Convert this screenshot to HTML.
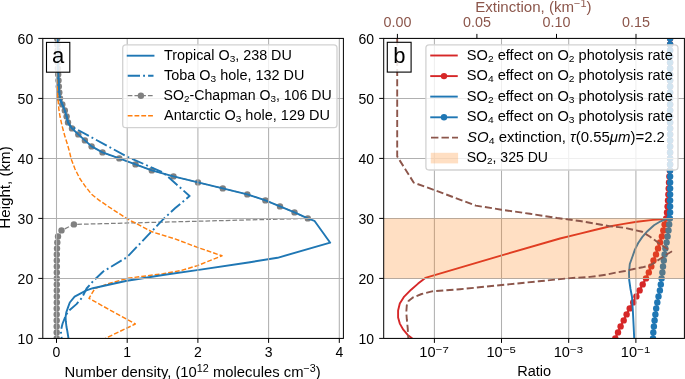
<!DOCTYPE html>
<html><head><meta charset="utf-8"><style>
html,body{margin:0;padding:0;background:#fff;}
svg{display:block;will-change:transform;}
text{font-family:"Liberation Sans", sans-serif;}
</style></head><body>
<svg width="685" height="379" viewBox="0 0 685 379">
<defs>
<clipPath id="ca"><rect x="42.8" y="38.4" width="300.59999999999997" height="300.0"/></clipPath>
<clipPath id="cb"><rect x="383.7" y="38.4" width="300.7" height="300.0"/></clipPath>
</defs>
<rect width="685" height="379" fill="#fff"/>

<g clip-path="url(#ca)" fill="none" stroke-linejoin="round">
<polyline points="57.2,38.4 57.4,44.4 57.6,50.4 57.7,56.4 57.8,62.4 57.9,68.4 58.2,74.4 58.5,80.4 58.8,86.4 59.3,92.4 60.0,98.4 62.3,104.4 64.8,110.4 66.6,116.4 68.0,122.4 72.0,128.4 78.3,134.4 84.9,140.4 91.6,146.4 102.5,152.4 119.3,158.4 135.5,164.4 151.8,170.4 173.5,176.4 198.0,182.4 222.8,188.4 247.3,194.4 265.4,200.4 280.0,206.4 294.5,212.4 307.8,218.4 73.9,224.4 61.5,230.4 58.0,236.4 57.3,242.4 57.0,248.4 56.8,254.4 56.8,260.4 56.8,266.4 56.8,272.4 56.8,278.4 56.8,284.4 56.8,290.4 56.8,296.4 56.8,302.4 56.7,308.4 56.7,314.4 56.7,320.4 56.7,326.4 56.7,332.4 56.7,338.4" stroke="#808080" stroke-width="1.25" stroke-dasharray="4.7 2.05"/>
<g fill="#808080" stroke="none"><circle cx="57.2" cy="38.4" r="3.2"/><circle cx="57.4" cy="44.4" r="3.2"/><circle cx="57.6" cy="50.4" r="3.2"/><circle cx="57.7" cy="56.4" r="3.2"/><circle cx="57.8" cy="62.4" r="3.2"/><circle cx="57.9" cy="68.4" r="3.2"/><circle cx="58.2" cy="74.4" r="3.2"/><circle cx="58.5" cy="80.4" r="3.2"/><circle cx="58.8" cy="86.4" r="3.2"/><circle cx="59.3" cy="92.4" r="3.2"/><circle cx="60.0" cy="98.4" r="3.2"/><circle cx="62.3" cy="104.4" r="3.2"/><circle cx="64.8" cy="110.4" r="3.2"/><circle cx="66.6" cy="116.4" r="3.2"/><circle cx="68.0" cy="122.4" r="3.2"/><circle cx="72.0" cy="128.4" r="3.2"/><circle cx="78.3" cy="134.4" r="3.2"/><circle cx="84.9" cy="140.4" r="3.2"/><circle cx="91.6" cy="146.4" r="3.2"/><circle cx="102.5" cy="152.4" r="3.2"/><circle cx="119.3" cy="158.4" r="3.2"/><circle cx="135.5" cy="164.4" r="3.2"/><circle cx="151.8" cy="170.4" r="3.2"/><circle cx="173.5" cy="176.4" r="3.2"/><circle cx="198.0" cy="182.4" r="3.2"/><circle cx="222.8" cy="188.4" r="3.2"/><circle cx="247.3" cy="194.4" r="3.2"/><circle cx="265.4" cy="200.4" r="3.2"/><circle cx="280.0" cy="206.4" r="3.2"/><circle cx="294.5" cy="212.4" r="3.2"/><circle cx="307.8" cy="218.4" r="3.2"/><circle cx="73.9" cy="224.4" r="3.2"/><circle cx="61.5" cy="230.4" r="3.2"/><circle cx="58.0" cy="236.4" r="3.2"/><circle cx="57.3" cy="242.4" r="3.2"/><circle cx="57.0" cy="248.4" r="3.2"/><circle cx="56.8" cy="254.4" r="3.2"/><circle cx="56.8" cy="260.4" r="3.2"/><circle cx="56.8" cy="266.4" r="3.2"/><circle cx="56.8" cy="272.4" r="3.2"/><circle cx="56.8" cy="278.4" r="3.2"/><circle cx="56.8" cy="284.4" r="3.2"/><circle cx="56.8" cy="290.4" r="3.2"/><circle cx="56.8" cy="296.4" r="3.2"/><circle cx="56.8" cy="302.4" r="3.2"/><circle cx="56.7" cy="308.4" r="3.2"/><circle cx="56.7" cy="314.4" r="3.2"/><circle cx="56.7" cy="320.4" r="3.2"/><circle cx="56.7" cy="326.4" r="3.2"/><circle cx="56.7" cy="332.4" r="3.2"/><circle cx="56.7" cy="338.4" r="3.2"/></g>
<polyline points="57.2,38.4 57.4,44.4 57.6,50.4 57.7,56.4 57.8,62.4 57.9,68.4 58.2,74.4 58.5,80.4 58.8,86.4 59.3,92.4 60.0,98.4 62.3,104.4 64.8,110.4 66.6,116.4 68.0,122.4 69.5,125.4 126.4,156.3 161.1,171.6 166.0,175.0 189.6,196.0 175.0,208.3 163.8,218.7 127.0,257.2 103.2,271.5 93.1,281.1 86.6,288.5 82.0,297.7 76.5,304.1 70.0,309.7 66.3,314.3 62.6,323.5 60.8,330.9 61.7,338.4" stroke="#1f77b4" stroke-width="1.9" stroke-dasharray="12.3 3.1 1.9 3.1" stroke-dashoffset="3.5"/>
<polyline points="57.2,38.4 57.2,60.0 57.2,83.0 57.6,93.7 58.2,101.6 58.9,109.5 60.0,116.5 62.0,125.6 64.8,136.0 67.6,145.0 69.6,152.0 71.1,158.7 75.0,169.0 79.8,178.5 85.3,186.4 91.6,194.3 99.6,200.6 109.0,207.0 127.0,218.7 152.0,231.8 175.0,238.9 197.5,247.4 222.0,255.8 197.5,265.6 181.6,270.4 163.0,273.7 127.6,278.3 108.0,283.8 94.9,288.5 89.0,298.4 135.3,324.0 105.4,338.4" stroke="#ff7f0e" stroke-width="1.45" stroke-dasharray="4.8 2.0"/>
<polyline points="57.2,38.4 57.4,44.4 57.6,50.4 57.7,56.4 57.8,62.4 57.9,68.4 58.2,74.4 58.5,80.4 58.8,86.4 59.3,92.4 60.0,98.4 62.3,104.4 64.8,110.4 66.6,116.4 68.0,122.4 72.0,128.4 78.3,134.4 84.9,140.4 91.6,146.4 102.5,152.4 119.3,158.4 135.5,164.4 151.8,170.4 173.5,176.4 198.0,182.4 222.8,188.4 247.3,194.4 265.4,200.4 280.0,206.4 294.5,212.4 307.8,218.4 314.4,220.8 330.2,242.7 277.5,257.8 250.0,262.2 197.1,270.1 163.0,275.0 135.0,279.5 126.9,280.7 108.7,284.7 92.9,288.2 86.4,290.3 74.6,296.6 69.8,302.5 68.2,306.9 66.3,312.4 65.6,317.0 65.8,321.2 66.5,327.0 67.3,331.0 68.5,338.4" stroke="#1f77b4" stroke-width="1.9" stroke-linecap="square"/>
</g>
<g stroke="#b0b0b0" stroke-width="1.05">
<line x1="56.5" y1="38.4" x2="56.5" y2="338.4"/>
<line x1="127.2" y1="38.4" x2="127.2" y2="338.4"/>
<line x1="197.9" y1="38.4" x2="197.9" y2="338.4"/>
<line x1="268.6" y1="38.4" x2="268.6" y2="338.4"/>
<line x1="339.3" y1="38.4" x2="339.3" y2="338.4"/>
<line x1="42.8" y1="338.4" x2="343.4" y2="338.4"/>
<line x1="42.8" y1="278.4" x2="343.4" y2="278.4"/>
<line x1="42.8" y1="218.4" x2="343.4" y2="218.4"/>
<line x1="42.8" y1="158.4" x2="343.4" y2="158.4"/>
<line x1="42.8" y1="98.4" x2="343.4" y2="98.4"/>
<line x1="42.8" y1="38.4" x2="343.4" y2="38.4"/>
</g>
<g clip-path="url(#cb)" fill="none" stroke-linejoin="round">
<polyline points="669.3,38.4 669.3,212.4 665.4,219.0 653.0,219.9 636.9,221.7 623.8,223.9 609.2,226.5 594.6,230.0 580.0,233.6 560.0,238.5 501.7,255.3 425.3,277.9 418.1,283.6 411.1,289.7 404.2,296.6 399.8,303.6 398.1,310.5 398.1,317.5 399.8,323.6 403.3,329.7 407.7,334.9 412.0,338.3 413.0,339.0" stroke="#d62728" stroke-width="1.9"/>
<polyline points="670.1,38.4 670.1,44.4 670.1,50.4 670.1,56.4 670.1,62.4 670.1,68.4 670.1,74.4 670.1,80.4 670.1,86.4 670.1,92.4 670.1,98.4 670.1,104.4 670.1,110.4 670.1,116.4 670.1,122.4 670.1,128.4 670.1,134.4 670.1,140.4 670.1,146.4 670.1,152.4 670.1,158.4 670.1,164.4 669.8,170.4 669.4,176.4 669.0,182.4 668.7,188.4 668.4,194.4 668.0,200.4 667.6,206.4 667.0,212.4 666.2,218.4 664.6,224.4 663.3,230.4 661.9,236.4 660.0,242.4 658.0,248.4 656.0,254.4 653.5,260.4 651.3,266.4 648.8,272.4 646.0,278.4 642.7,284.4 639.6,290.4 636.4,296.4 633.2,302.4 629.7,308.4 626.6,314.4 623.7,320.4 620.6,326.4 618.0,332.4 615.3,338.4" stroke="#d62728" stroke-width="1.9"/>
<g fill="#d62728" stroke="none"><circle cx="670.1" cy="38.4" r="3.2"/><circle cx="670.1" cy="44.4" r="3.2"/><circle cx="670.1" cy="50.4" r="3.2"/><circle cx="670.1" cy="56.4" r="3.2"/><circle cx="670.1" cy="62.4" r="3.2"/><circle cx="670.1" cy="68.4" r="3.2"/><circle cx="670.1" cy="74.4" r="3.2"/><circle cx="670.1" cy="80.4" r="3.2"/><circle cx="670.1" cy="86.4" r="3.2"/><circle cx="670.1" cy="92.4" r="3.2"/><circle cx="670.1" cy="98.4" r="3.2"/><circle cx="670.1" cy="104.4" r="3.2"/><circle cx="670.1" cy="110.4" r="3.2"/><circle cx="670.1" cy="116.4" r="3.2"/><circle cx="670.1" cy="122.4" r="3.2"/><circle cx="670.1" cy="128.4" r="3.2"/><circle cx="670.1" cy="134.4" r="3.2"/><circle cx="670.1" cy="140.4" r="3.2"/><circle cx="670.1" cy="146.4" r="3.2"/><circle cx="670.1" cy="152.4" r="3.2"/><circle cx="670.1" cy="158.4" r="3.2"/><circle cx="670.1" cy="164.4" r="3.2"/><circle cx="669.8" cy="170.4" r="3.2"/><circle cx="669.4" cy="176.4" r="3.2"/><circle cx="669.0" cy="182.4" r="3.2"/><circle cx="668.7" cy="188.4" r="3.2"/><circle cx="668.4" cy="194.4" r="3.2"/><circle cx="668.0" cy="200.4" r="3.2"/><circle cx="667.6" cy="206.4" r="3.2"/><circle cx="667.0" cy="212.4" r="3.2"/><circle cx="666.2" cy="218.4" r="3.2"/><circle cx="664.6" cy="224.4" r="3.2"/><circle cx="663.3" cy="230.4" r="3.2"/><circle cx="661.9" cy="236.4" r="3.2"/><circle cx="660.0" cy="242.4" r="3.2"/><circle cx="658.0" cy="248.4" r="3.2"/><circle cx="656.0" cy="254.4" r="3.2"/><circle cx="653.5" cy="260.4" r="3.2"/><circle cx="651.3" cy="266.4" r="3.2"/><circle cx="648.8" cy="272.4" r="3.2"/><circle cx="646.0" cy="278.4" r="3.2"/><circle cx="642.7" cy="284.4" r="3.2"/><circle cx="639.6" cy="290.4" r="3.2"/><circle cx="636.4" cy="296.4" r="3.2"/><circle cx="633.2" cy="302.4" r="3.2"/><circle cx="629.7" cy="308.4" r="3.2"/><circle cx="626.6" cy="314.4" r="3.2"/><circle cx="623.7" cy="320.4" r="3.2"/><circle cx="620.6" cy="326.4" r="3.2"/><circle cx="618.0" cy="332.4" r="3.2"/><circle cx="615.3" cy="338.4" r="3.2"/></g>
<polyline points="669.3,38.4 669.3,212.4 667.2,218.6 660.6,221.3 654.0,225.2 647.4,231.2 642.2,237.1 638.2,243.0 634.9,249.6 632.5,256.5 629.8,264.0 629.0,272.5 629.2,280.0 630.5,289.0 632.0,297.0 632.9,311.6 633.7,327.5 634.2,338.4" stroke="#1f77b4" stroke-width="1.9"/>
<polyline points="670.1,38.4 670.1,44.4 670.1,50.4 670.1,56.4 670.1,62.4 670.1,68.4 670.1,74.4 670.1,80.4 670.1,86.4 670.1,92.4 670.1,98.4 670.1,104.4 670.1,110.4 670.1,116.4 670.1,122.4 670.1,128.4 670.1,134.4 670.1,140.4 670.1,146.4 670.1,152.4 670.1,158.4 670.1,164.4 670.1,170.4 670.1,176.4 670.1,182.4 670.1,188.4 670.1,194.4 670.1,200.4 670.1,206.4 670.1,212.4 669.9,218.4 669.2,224.4 668.5,230.4 667.6,236.4 666.6,242.4 665.4,248.4 664.6,254.4 663.8,260.4 663.0,266.4 662.4,272.4 661.6,278.4 660.8,284.4 659.9,290.4 658.5,296.4 657.3,302.4 656.2,308.4 655.4,314.4 654.6,320.4 653.9,326.4 653.3,332.4 653.0,338.4" stroke="#1f77b4" stroke-width="1.9"/>
<g fill="#1f77b4" stroke="none"><circle cx="670.1" cy="38.4" r="3.2"/><circle cx="670.1" cy="44.4" r="3.2"/><circle cx="670.1" cy="50.4" r="3.2"/><circle cx="670.1" cy="56.4" r="3.2"/><circle cx="670.1" cy="62.4" r="3.2"/><circle cx="670.1" cy="68.4" r="3.2"/><circle cx="670.1" cy="74.4" r="3.2"/><circle cx="670.1" cy="80.4" r="3.2"/><circle cx="670.1" cy="86.4" r="3.2"/><circle cx="670.1" cy="92.4" r="3.2"/><circle cx="670.1" cy="98.4" r="3.2"/><circle cx="670.1" cy="104.4" r="3.2"/><circle cx="670.1" cy="110.4" r="3.2"/><circle cx="670.1" cy="116.4" r="3.2"/><circle cx="670.1" cy="122.4" r="3.2"/><circle cx="670.1" cy="128.4" r="3.2"/><circle cx="670.1" cy="134.4" r="3.2"/><circle cx="670.1" cy="140.4" r="3.2"/><circle cx="670.1" cy="146.4" r="3.2"/><circle cx="670.1" cy="152.4" r="3.2"/><circle cx="670.1" cy="158.4" r="3.2"/><circle cx="670.1" cy="164.4" r="3.2"/><circle cx="670.1" cy="170.4" r="3.2"/><circle cx="670.1" cy="176.4" r="3.2"/><circle cx="670.1" cy="182.4" r="3.2"/><circle cx="670.1" cy="188.4" r="3.2"/><circle cx="670.1" cy="194.4" r="3.2"/><circle cx="670.1" cy="200.4" r="3.2"/><circle cx="670.1" cy="206.4" r="3.2"/><circle cx="670.1" cy="212.4" r="3.2"/><circle cx="669.9" cy="218.4" r="3.2"/><circle cx="669.2" cy="224.4" r="3.2"/><circle cx="668.5" cy="230.4" r="3.2"/><circle cx="667.6" cy="236.4" r="3.2"/><circle cx="666.6" cy="242.4" r="3.2"/><circle cx="665.4" cy="248.4" r="3.2"/><circle cx="664.6" cy="254.4" r="3.2"/><circle cx="663.8" cy="260.4" r="3.2"/><circle cx="663.0" cy="266.4" r="3.2"/><circle cx="662.4" cy="272.4" r="3.2"/><circle cx="661.6" cy="278.4" r="3.2"/><circle cx="660.8" cy="284.4" r="3.2"/><circle cx="659.9" cy="290.4" r="3.2"/><circle cx="658.5" cy="296.4" r="3.2"/><circle cx="657.3" cy="302.4" r="3.2"/><circle cx="656.2" cy="308.4" r="3.2"/><circle cx="655.4" cy="314.4" r="3.2"/><circle cx="654.6" cy="320.4" r="3.2"/><circle cx="653.9" cy="326.4" r="3.2"/><circle cx="653.3" cy="332.4" r="3.2"/><circle cx="653.0" cy="338.4" r="3.2"/></g>
</g>
<g stroke="#b0b0b0" stroke-width="1.05">
<line x1="434.4" y1="38.4" x2="434.4" y2="338.4"/>
<line x1="501.5" y1="38.4" x2="501.5" y2="338.4"/>
<line x1="568.7" y1="38.4" x2="568.7" y2="338.4"/>
<line x1="635.9" y1="38.4" x2="635.9" y2="338.4"/>
<line x1="383.7" y1="338.4" x2="684.4" y2="338.4"/>
<line x1="383.7" y1="278.4" x2="684.4" y2="278.4"/>
<line x1="383.7" y1="218.4" x2="684.4" y2="218.4"/>
<line x1="383.7" y1="158.4" x2="684.4" y2="158.4"/>
<line x1="383.7" y1="98.4" x2="684.4" y2="98.4"/>
<line x1="383.7" y1="38.4" x2="684.4" y2="38.4"/>
</g>
<rect x="383.7" y="218.4" width="300.7" height="60.0" fill="#ff7f0e" fill-opacity="0.25"/>
<g clip-path="url(#cb)"><polyline points="397.2,38.4 397.2,156.4 413.8,182.7 433.9,189.9 475.8,205.6 501.4,209.7 530.0,213.8 557.1,218.0 580.0,221.0 609.2,226.1 625.0,227.9 642.2,231.8 649.7,236.5 660.6,244.3 671.3,251.8 666.6,254.5 660.3,258.7 653.4,263.4 650.0,265.3 642.5,267.3 633.8,269.0 625.0,271.0 616.3,272.5 607.5,274.4 598.8,275.8 590.0,276.9 570.4,278.1 538.8,281.3 460.0,289.2 432.0,291.4 421.6,294.0 412.9,297.5 408.5,301.0 406.8,305.3 406.3,312.3 406.8,319.2 407.7,327.9 408.3,338.4" fill="none" stroke="#8c564b" stroke-width="1.9" stroke-dasharray="7.1 3.1" stroke-linejoin="round"/></g>
<rect x="42.8" y="38.4" width="300.6" height="300.0" fill="none" stroke="#000" stroke-width="1.0"/>
<rect x="383.7" y="38.4" width="300.7" height="300.0" fill="none" stroke="#000" stroke-width="1.0"/>
<g stroke="#000" stroke-width="1.0">
<line x1="38.3" y1="338.4" x2="42.8" y2="338.4"/>
<line x1="38.3" y1="278.4" x2="42.8" y2="278.4"/>
<line x1="38.3" y1="218.4" x2="42.8" y2="218.4"/>
<line x1="38.3" y1="158.4" x2="42.8" y2="158.4"/>
<line x1="38.3" y1="98.4" x2="42.8" y2="98.4"/>
<line x1="38.3" y1="38.4" x2="42.8" y2="38.4"/>
<line x1="379.2" y1="338.4" x2="383.7" y2="338.4"/>
<line x1="379.2" y1="278.4" x2="383.7" y2="278.4"/>
<line x1="379.2" y1="218.4" x2="383.7" y2="218.4"/>
<line x1="379.2" y1="158.4" x2="383.7" y2="158.4"/>
<line x1="379.2" y1="98.4" x2="383.7" y2="98.4"/>
<line x1="379.2" y1="38.4" x2="383.7" y2="38.4"/>
<line x1="56.5" y1="338.4" x2="56.5" y2="342.9"/>
<line x1="127.2" y1="338.4" x2="127.2" y2="342.9"/>
<line x1="197.9" y1="338.4" x2="197.9" y2="342.9"/>
<line x1="268.6" y1="338.4" x2="268.6" y2="342.9"/>
<line x1="339.3" y1="338.4" x2="339.3" y2="342.9"/>
<line x1="434.4" y1="338.4" x2="434.4" y2="342.9"/>
<line x1="501.5" y1="338.4" x2="501.5" y2="342.9"/>
<line x1="568.7" y1="338.4" x2="568.7" y2="342.9"/>
<line x1="635.9" y1="338.4" x2="635.9" y2="342.9"/>
<line x1="397.4" y1="33.9" x2="397.4" y2="38.4"/>
<line x1="476.9" y1="33.9" x2="476.9" y2="38.4"/>
<line x1="556.5" y1="33.9" x2="556.5" y2="38.4"/>
<line x1="636.0" y1="33.9" x2="636.0" y2="38.4"/>
</g>
<g>
<text x="33.2" y="343.5" font-size="14" fill="#000" text-anchor="end">10</text>
<text x="33.2" y="283.5" font-size="14" fill="#000" text-anchor="end">20</text>
<text x="33.2" y="223.5" font-size="14" fill="#000" text-anchor="end">30</text>
<text x="33.2" y="163.5" font-size="14" fill="#000" text-anchor="end">40</text>
<text x="33.2" y="103.5" font-size="14" fill="#000" text-anchor="end">50</text>
<text x="33.2" y="43.5" font-size="14" fill="#000" text-anchor="end">60</text>
<text x="374.0" y="343.5" font-size="14" fill="#000" text-anchor="end">10</text>
<text x="374.0" y="283.5" font-size="14" fill="#000" text-anchor="end">20</text>
<text x="374.0" y="223.5" font-size="14" fill="#000" text-anchor="end">30</text>
<text x="374.0" y="163.5" font-size="14" fill="#000" text-anchor="end">40</text>
<text x="374.0" y="103.5" font-size="14" fill="#000" text-anchor="end">50</text>
<text x="374.0" y="43.5" font-size="14" fill="#000" text-anchor="end">60</text>
<text x="56.5" y="356.9" font-size="14" fill="#000" text-anchor="middle">0</text>
<text x="127.2" y="356.9" font-size="14" fill="#000" text-anchor="middle">1</text>
<text x="197.9" y="356.9" font-size="14" fill="#000" text-anchor="middle">2</text>
<text x="268.6" y="356.9" font-size="14" fill="#000" text-anchor="middle">3</text>
<text x="339.3" y="356.9" font-size="14" fill="#000" text-anchor="middle">4</text>
<text x="419.34" y="357.10" font-size="14" fill="#000" textLength="16.25" lengthAdjust="spacingAndGlyphs">10</text>
<text x="435.80" y="352.60" font-size="9.8" fill="#000" textLength="12.97" lengthAdjust="spacingAndGlyphs">−7</text>
<text x="486.50" y="357.10" font-size="14" fill="#000" textLength="16.25" lengthAdjust="spacingAndGlyphs">10</text>
<text x="502.96" y="352.60" font-size="9.8" fill="#000" textLength="12.97" lengthAdjust="spacingAndGlyphs">−5</text>
<text x="553.66" y="357.10" font-size="14" fill="#000" textLength="16.25" lengthAdjust="spacingAndGlyphs">10</text>
<text x="570.12" y="352.60" font-size="9.8" fill="#000" textLength="12.97" lengthAdjust="spacingAndGlyphs">−3</text>
<text x="620.82" y="357.10" font-size="14" fill="#000" textLength="16.25" lengthAdjust="spacingAndGlyphs">10</text>
<text x="637.28" y="352.60" font-size="9.8" fill="#000" textLength="12.97" lengthAdjust="spacingAndGlyphs">−1</text>
<text x="383.44" y="26.80" font-size="14" fill="#8c564b" textLength="27.92" lengthAdjust="spacingAndGlyphs">0.00</text>
<text x="462.99" y="26.80" font-size="14" fill="#8c564b" textLength="27.92" lengthAdjust="spacingAndGlyphs">0.05</text>
<text x="542.54" y="26.80" font-size="14" fill="#8c564b" textLength="27.92" lengthAdjust="spacingAndGlyphs">0.10</text>
<text x="622.09" y="26.80" font-size="14" fill="#8c564b" textLength="27.92" lengthAdjust="spacingAndGlyphs">0.15</text>
</g>
<text x="64.58" y="376.50" font-size="14" fill="#000" textLength="256.15" lengthAdjust="spacingAndGlyphs">Number density, (10<tspan baseline-shift="4.6" font-size="10.2">12</tspan> molecules cm<tspan baseline-shift="4.6" font-size="10.2">−3</tspan>)</text>
<text x="0" y="0" font-size="14" fill="#000" transform="translate(9.80,228.65) rotate(-90)" textLength="82.31" lengthAdjust="spacingAndGlyphs">Height, (km)</text>
<text x="517.20" y="375.60" font-size="14" fill="#000" textLength="33.91" lengthAdjust="spacingAndGlyphs">Ratio</text>
<text x="475.25" y="11.70" font-size="14" fill="#8c564b" textLength="116.37" lengthAdjust="spacingAndGlyphs">Extinction, (km<tspan baseline-shift="4.6" font-size="10.2">−1</tspan>)</text>
<rect x="122.7" y="44.8" width="214.3" height="82.9" rx="3.2" ry="3.2" fill="#fff" fill-opacity="0.8" stroke="#d2d2d2" stroke-width="1.3"/>
<line x1="127.7" y1="55.7" x2="153.5" y2="55.7" stroke="#1f77b4" stroke-width="1.9" stroke-linecap="square"/>
<line x1="127.7" y1="75.75" x2="153.5" y2="75.75" stroke="#1f77b4" stroke-width="1.9" stroke-dasharray="12.3 3.1 1.9 3.1"/>
<line x1="127.7" y1="95.7" x2="153.5" y2="95.7" stroke="#808080" stroke-width="1.25" stroke-dasharray="4.7 2.05"/>
<circle cx="140.9" cy="95.7" r="3.2" fill="#808080"/>
<line x1="127.7" y1="115.75" x2="153.5" y2="115.75" stroke="#ff7f0e" stroke-width="1.45" stroke-dasharray="4.8 2.0"/>
<text x="164.04" y="59.60" font-size="14" fill="#000" textLength="127.80" lengthAdjust="spacingAndGlyphs">Tropical O<tspan baseline-shift="-2.1" font-size="9.8">3</tspan>, 238 DU</text>
<text x="164.04" y="80.00" font-size="14" fill="#000" textLength="140.30" lengthAdjust="spacingAndGlyphs">Toba O<tspan baseline-shift="-2.1" font-size="9.8">3</tspan> hole, 132 DU</text>
<text x="163.64" y="99.70" font-size="14" fill="#000" textLength="168.01" lengthAdjust="spacingAndGlyphs">SO<tspan baseline-shift="-2.1" font-size="9.8">2</tspan>-Chapman O<tspan baseline-shift="-2.1" font-size="9.8">3</tspan>, 106 DU</text>
<text x="164.00" y="119.70" font-size="14" fill="#000" textLength="166.00" lengthAdjust="spacingAndGlyphs">Antarctic O<tspan baseline-shift="-2.1" font-size="9.8">3</tspan> hole, 129 DU</text>
<rect x="425.9" y="44.8" width="252.1" height="125.2" rx="3.2" ry="3.2" fill="#fff" fill-opacity="0.8" stroke="#d2d2d2" stroke-width="1.3"/>
<line x1="431.2" y1="55.5" x2="456.8" y2="55.5" stroke="#d62728" stroke-width="1.9" stroke-linecap="square"/>
<line x1="431.2" y1="76.1" x2="456.8" y2="76.1" stroke="#d62728" stroke-width="1.9" stroke-linecap="square"/>
<circle cx="444" cy="76.1" r="3.2" fill="#d62728"/>
<line x1="431.2" y1="96.6" x2="456.8" y2="96.6" stroke="#1f77b4" stroke-width="1.9" stroke-linecap="square"/>
<line x1="431.2" y1="117.3" x2="456.8" y2="117.3" stroke="#1f77b4" stroke-width="1.9" stroke-linecap="square"/>
<circle cx="444" cy="117.3" r="3.2" fill="#1f77b4"/>
<line x1="431" y1="137.6" x2="458" y2="137.6" stroke="#8c564b" stroke-width="1.9" stroke-dasharray="7.4 3.1"/>
<rect x="430.8" y="152.8" width="27.3" height="10.6" fill="#ff7f0e" fill-opacity="0.25"/>
<text x="466.82" y="59.75" font-size="14" fill="#000" textLength="206.00" lengthAdjust="spacingAndGlyphs">SO<tspan baseline-shift="-2.1" font-size="9.8">2</tspan> effect on O<tspan baseline-shift="-2.1" font-size="9.8">2</tspan> photolysis rate</text>
<text x="466.82" y="80.20" font-size="14" fill="#000" textLength="206.00" lengthAdjust="spacingAndGlyphs">SO<tspan baseline-shift="-2.1" font-size="9.8">4</tspan> effect on O<tspan baseline-shift="-2.1" font-size="9.8">2</tspan> photolysis rate</text>
<text x="466.82" y="100.60" font-size="14" fill="#000" textLength="206.00" lengthAdjust="spacingAndGlyphs">SO<tspan baseline-shift="-2.1" font-size="9.8">2</tspan> effect on O<tspan baseline-shift="-2.1" font-size="9.8">3</tspan> photolysis rate</text>
<text x="466.82" y="121.00" font-size="14" fill="#000" textLength="206.00" lengthAdjust="spacingAndGlyphs">SO<tspan baseline-shift="-2.1" font-size="9.8">4</tspan> effect on O<tspan baseline-shift="-2.1" font-size="9.8">3</tspan> photolysis rate</text>
<text x="467.07" y="141.50" font-size="14" fill="#000" textLength="197.87" lengthAdjust="spacingAndGlyphs"><tspan font-style="italic">SO</tspan><tspan baseline-shift="-2.1" font-size="9.8">4</tspan> extinction, <tspan font-style="italic">τ</tspan>(0.55<tspan font-style="italic">μm</tspan>)=2.2</text>
<text x="466.75" y="161.80" font-size="14" fill="#000" textLength="81.24" lengthAdjust="spacingAndGlyphs">SO<tspan baseline-shift="-2.1" font-size="9.8">2</tspan>, 325 DU</text>
<rect x="46.5" y="42.4" width="23.3" height="29.8" fill="#fff" fill-opacity="0.85" stroke="#000" stroke-width="1.1"/>
<text x="58.1" y="62.8" font-size="22" fill="#000" text-anchor="middle">a</text>
<rect x="387.3" y="42.3" width="23.8" height="29.8" fill="#fff" fill-opacity="0.85" stroke="#000" stroke-width="1.1"/>
<text x="399.3" y="63.1" font-size="22" fill="#000" text-anchor="middle">b</text>
</svg></body></html>
